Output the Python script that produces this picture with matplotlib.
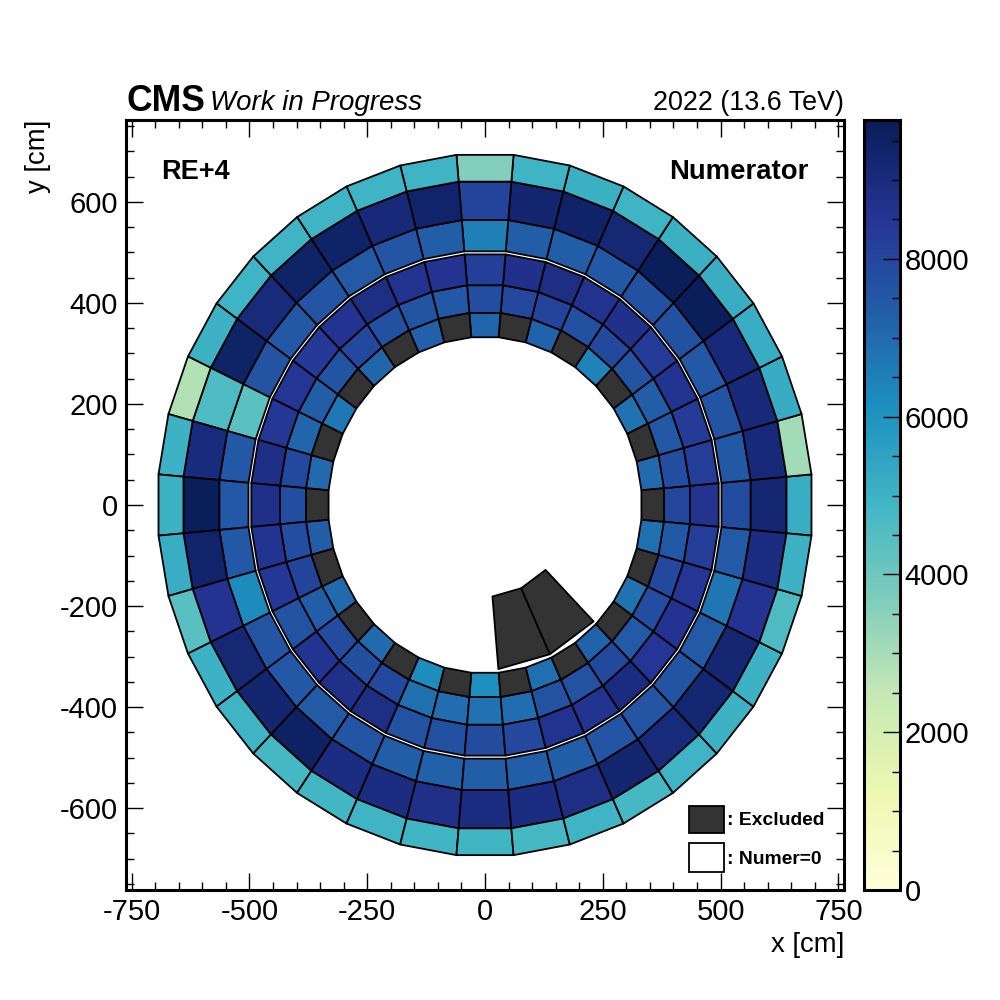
import numpy as np
import matplotlib
matplotlib.use("Agg")
import matplotlib.pyplot as plt
from matplotlib.collections import PolyCollection
from matplotlib.colors import Normalize
from matplotlib.patches import Rectangle
from matplotlib.ticker import MultipleLocator

plt.rcParams["font.family"] = ["Liberation Sans", "DejaVu Sans"]
plt.rcParams["axes.unicode_minus"] = False

X = float("nan")  # excluded chamber
# values per 10-degree sector, starting at angle 0 and going counter-clockwise
ring_1 = [X, 7050, X, 6850, X, 6450, X, 7200, X, 7100, X, 7250, X, 7150, X, 6700, X, 7050,
          X, 7300, X, 7050, X, 7050, X, 6200, X, 6100, X, 6900, X, 7200, X, 6850, X, 6900]
ring_2 = [8000, 7800, 7500, 7350, 7600, 7900, 7700, 8050, 7950, 7800, 7500, 7600, 7700, 7950, 7600, 7350, 7150, 7900,
          7800, 7800, 8050, 7300, 7850, 7750, 7950, 6900, 6950, 6850, 6950, 7650, 7650, 7900, 7400, 7800, 7950, 7450]
ring_3 = [8600, 8250, 8300, 8600, 8300, 8700, 8650, 8850, 8700, 8200, 8550, 8650, 8850, 8550, 8350, 8500, 8450, 8800,
          8750, 8600, 8450, 7650, 8600, 8750, 8850, 7650, 7700, 7850, 7950, 8650, 8600, 8950, 8500, 8550, 8500, 8250]
ring_4 = [7850, 7450, 7600, 7500, 7700, 7700, 7500, 7350, 7350, 6500, 7300, 7550, 7400, 7550, 7500, 7600, 4350, 7500,
          7500, 7500, 6250, 7550, 7500, 7400, 7550, 7350, 7250, 7350, 7350, 7300, 7550, 7550, 7600, 7400, 6750, 7400]
ring_5 = [9200, 9100, 9100, 9100, 9650, 9650, 9150, 9400, 9300, 8100, 9350, 9100, 9450, 9450, 9050, 9450, 4650, 9000,
          9700, 9350, 8550, 9150, 9250, 9500, 8900, 8900, 8750, 8900, 8900, 8850, 9300, 9050, 9200, 9200, 8550, 8900]
ring_6 = [5150, 3060, 5200, 5150, 5150, 5100, 4950, 5100, 4950, 3600, 4950, 4950, 4950, 4950, 4950, 5000, 2800, 5000,
          5000, 5150, 4400, 5000, 4950, 4800, 4850, 4950, 4900, 4900, 4800, 4950, 4800, 4950, 5000, 5000, 4650, 5000]
ring_values = [ring_1, ring_2, ring_3, ring_4, ring_5, ring_6]
ring_edges = [(332, 380), (380, 435), (435, 496), (502, 564), (564, 640), (640, 693)]
sector_step = 10
# two wide excluded chambers drawn inside the ring: centre angle of each
wide_angles = [285, 305]
wide_edges = (179, 321)
wide_half = 10
vmax = 9760
excluded_color = "#333333"
edge_lw = 1.3


def cell(angle, r_in, r_out, half):
    t = np.radians(angle)
    h = np.radians(half)
    corners = []
    for r, sgn in ((r_in, -1), (r_out, -1), (r_out, 1), (r_in, 1)):
        rc = r / np.cos(h)
        corners.append((rc * np.cos(t + sgn * h), rc * np.sin(t + sgn * h)))
    return corners


fig = plt.figure(figsize=(10, 10), dpi=100)
ax = fig.add_axes([0.126, 0.110, 0.718, 0.770])
cax = fig.add_axes([0.864, 0.110, 0.036, 0.770])

good_verts, good_vals, bad_verts = [], [], []
for (r_in, r_out), vals in zip(ring_edges, ring_values):
    for i, v in enumerate(vals):
        poly = cell(i * sector_step, r_in, r_out, sector_step / 2)
        if np.isnan(v):
            bad_verts.append(poly)
        else:
            good_verts.append(poly)
            good_vals.append(v)
for a in wide_angles:
    bad_verts.append(cell(a, wide_edges[0], wide_edges[1], wide_half))

coll = PolyCollection(good_verts, array=np.array(good_vals), cmap="YlGnBu",
                      norm=Normalize(0, vmax), edgecolors="black", linewidths=edge_lw)
ax.add_collection(coll)
ax.add_collection(PolyCollection(bad_verts, facecolors=excluded_color,
                                 edgecolors="black", linewidths=edge_lw))

ax.set_xlim(-762, 762)
ax.set_ylim(-762, 762)
ax.xaxis.set_major_locator(MultipleLocator(250))
ax.xaxis.set_minor_locator(MultipleLocator(50))
ax.yaxis.set_major_locator(MultipleLocator(200))
ax.yaxis.set_minor_locator(MultipleLocator(50))
ax.tick_params(which="both", direction="in", top=True, right=True, width=1)
ax.tick_params(which="major", length=12, labelsize=21)
ax.tick_params(which="minor", length=6)
ax.tick_params(axis="x", which="major", pad=6)
ax.tick_params(axis="y", which="major", pad=6)
for s in ax.spines.values():
    s.set_linewidth(2.2)

ax.set_xlabel("x [cm]", fontsize=19.8, ha="right", va="top")
ax.xaxis.set_label_coords(1.0, -0.055)
ax.set_ylabel("y [cm]", fontsize=19.8, ha="right", va="bottom")
ax.yaxis.set_label_coords(-0.1050, 1.0)

cb = fig.colorbar(coll, cax=cax)
cb.set_ticks(np.arange(0, 8001, 2000))
cb.ax.yaxis.set_minor_locator(MultipleLocator(500))
cb.ax.tick_params(which="both", direction="in", width=1)
cb.ax.tick_params(which="major", length=12, labelsize=21, pad=3.5)
cb.ax.tick_params(which="minor", length=6)
cb.outline.set_linewidth(2.2)

ax.text(0.0, 1.0117, "CMS", transform=ax.transAxes, fontsize=25.6, fontweight="bold", ha="left", va="baseline")
ax.text(0.117, 1.0130, "Work in Progress", transform=ax.transAxes, fontsize=19.9, style="italic", ha="left", va="baseline")
ax.text(1.0, 1.0130, "2022 (13.6 TeV)", transform=ax.transAxes, fontsize=19.4, ha="right", va="baseline")
ax.text(0.0490, 0.9325, "RE+4", transform=ax.transAxes, fontsize=19.5, fontweight="bold", ha="left", va="center")
ax.text(0.95, 0.9325, "Numerator", transform=ax.transAxes, fontsize=19.8, fontweight="bold", ha="right", va="center")

# hand-placed key, in axes fractions
key_x = 0.7841
key_w = 0.0487
key_rows = [(0.0740, 0.0351, excluded_color, ": Excluded", 0.0903),
            (0.0234, 0.0377, "white", ": Numer=0", 0.0390)]
for y0, h, color, label, ty in key_rows:
    ax.add_patch(Rectangle((key_x, y0), key_w, h, transform=ax.transAxes, facecolor=color,
                           edgecolor="black", linewidth=edge_lw))
    ax.text(key_x + key_w + 0.004, ty, label, transform=ax.transAxes, fontsize=13.9,
            fontweight="bold", ha="left", va="center")

fig.savefig("out.png", dpi=100)
